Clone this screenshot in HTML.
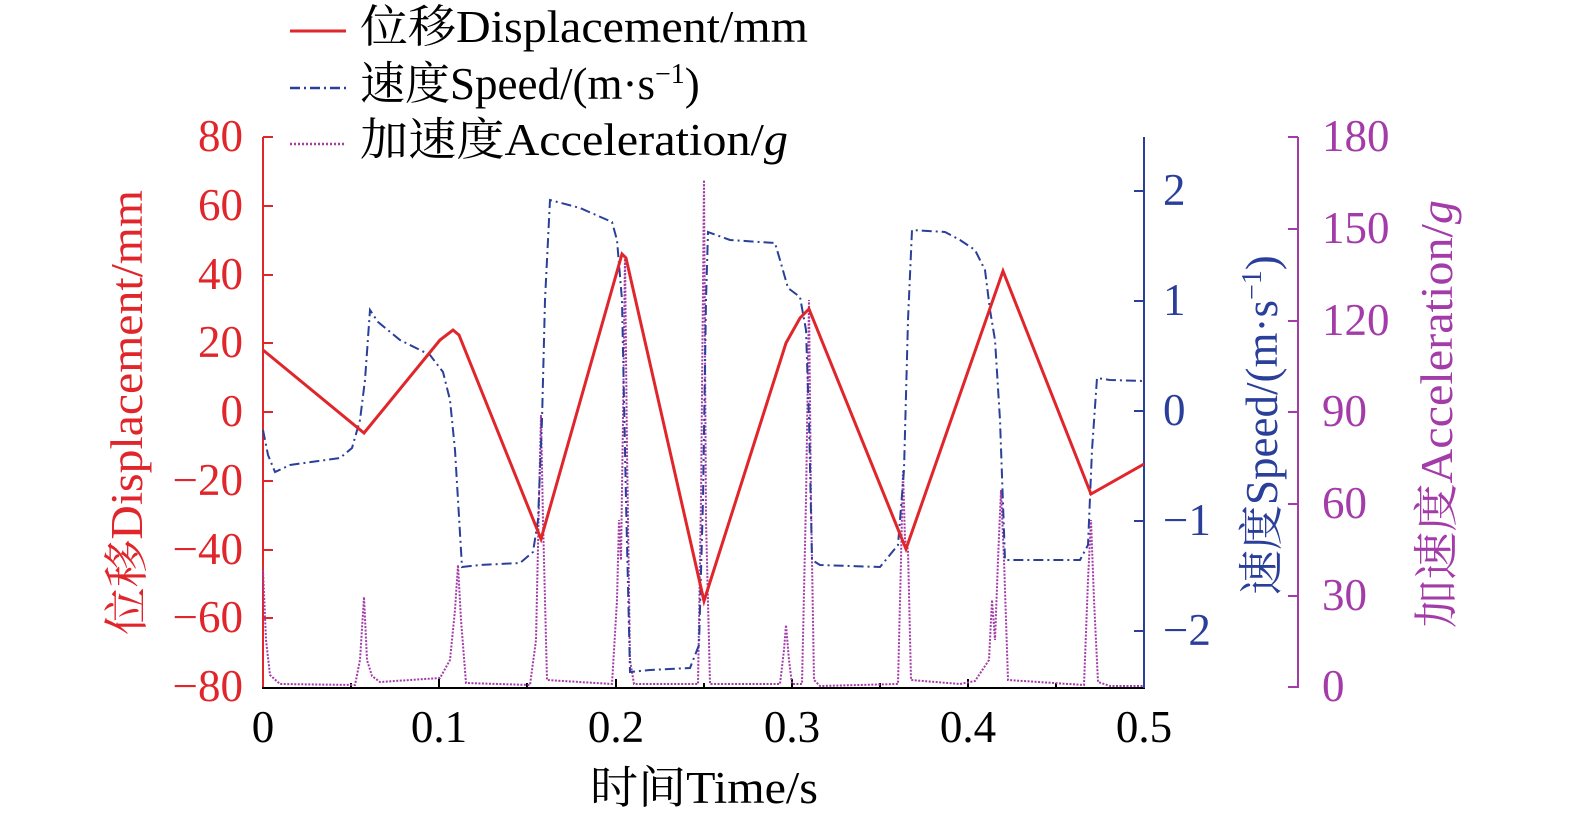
<!DOCTYPE html>
<html><head><meta charset="utf-8"><style>
html,body{margin:0;padding:0;background:#fff}
svg{display:block}
text{font-family:"Liberation Serif","Noto Serif CJK SC",serif;font-size:45px}
</style></head><body>
<svg width="1575" height="823" viewBox="0 0 1575 823" xmlns="http://www.w3.org/2000/svg">
<!-- legend -->
<line x1="290" y1="31" x2="346" y2="31" stroke="#e0262b" stroke-width="3"/>
<text x="360" y="42" fill="#000" textLength="448" lengthAdjust="spacingAndGlyphs">位移Displacement/mm</text>
<line x1="290" y1="88" x2="346" y2="88" stroke="#2a3f9a" stroke-width="2.5" stroke-dasharray="10,4,2,4"/>
<text x="360" y="99" fill="#000">速度Speed/(m·s<tspan dy="-16" font-size="28">−1</tspan><tspan dy="16">)</tspan></text>
<line x1="290" y1="144" x2="346" y2="144" stroke="#a33ca8" stroke-width="2.5" stroke-dasharray="2,2"/>
<text x="360" y="155" fill="#000" textLength="428" lengthAdjust="spacingAndGlyphs">加速度Acceleration/<tspan font-style="italic">g</tspan></text>

<!-- axes -->
<line x1="263" y1="137" x2="263" y2="688" stroke="#e0262b" stroke-width="2"/>
<line x1="262" y1="688" x2="1145" y2="688" stroke="#000" stroke-width="2"/>
<line x1="1144" y1="137" x2="1144" y2="688" stroke="#2a3f9a" stroke-width="2"/>
<line x1="1298" y1="137" x2="1298" y2="688" stroke="#a33ca8" stroke-width="2"/>
<g stroke="#e0262b" stroke-width="2">
<line x1="263" y1="137" x2="273" y2="137"/><line x1="263" y1="206" x2="273" y2="206"/><line x1="263" y1="275" x2="273" y2="275"/><line x1="263" y1="343" x2="273" y2="343"/><line x1="263" y1="412" x2="273" y2="412"/><line x1="263" y1="481" x2="273" y2="481"/><line x1="263" y1="550" x2="273" y2="550"/><line x1="263" y1="618" x2="273" y2="618"/>
</g>
<g stroke="#2a3f9a" stroke-width="2">
<line x1="1134" y1="191" x2="1144" y2="191"/><line x1="1134" y1="301" x2="1144" y2="301"/><line x1="1134" y1="411" x2="1144" y2="411"/><line x1="1134" y1="521" x2="1144" y2="521"/><line x1="1134" y1="631" x2="1144" y2="631"/>
</g>
<g stroke="#a33ca8" stroke-width="2">
<line x1="1288" y1="137" x2="1298" y2="137"/><line x1="1288" y1="229" x2="1298" y2="229"/><line x1="1288" y1="321" x2="1298" y2="321"/><line x1="1288" y1="412" x2="1298" y2="412"/><line x1="1288" y1="504" x2="1298" y2="504"/><line x1="1288" y1="596" x2="1298" y2="596"/><line x1="1288" y1="687" x2="1298" y2="687"/>
</g>
<g stroke="#000" stroke-width="2">
<line x1="439" y1="688" x2="439" y2="679"/><line x1="616" y1="688" x2="616" y2="679"/><line x1="792" y1="688" x2="792" y2="679"/><line x1="968" y1="688" x2="968" y2="679"/>
<line x1="351" y1="688" x2="351" y2="683"/><line x1="527" y1="688" x2="527" y2="683"/><line x1="704" y1="688" x2="704" y2="683"/><line x1="880" y1="688" x2="880" y2="683"/><line x1="1056" y1="688" x2="1056" y2="683"/>
</g>

<!-- tick labels -->
<g fill="#e0262b" text-anchor="end">
<text x="243" y="151">80</text><text x="243" y="220">60</text><text x="243" y="289">40</text><text x="243" y="357">20</text><text x="243" y="426">0</text><text x="243" y="495">−20</text><text x="243" y="564">−40</text><text x="243" y="632">−60</text><text x="243" y="701">−80</text>
</g>
<g fill="#2a3f9a">
<text x="1163" y="205">2</text><text x="1163" y="315">1</text><text x="1163" y="425">0</text><text x="1163" y="535">−1</text><text x="1163" y="645">−2</text>
</g>
<g fill="#a33ca8">
<text x="1322" y="151">180</text><text x="1322" y="243">150</text><text x="1322" y="335">120</text><text x="1322" y="426">90</text><text x="1322" y="518">60</text><text x="1322" y="610">30</text><text x="1322" y="701">0</text>
</g>
<g fill="#000" text-anchor="middle">
<text x="263" y="742">0</text><text x="439" y="742">0.1</text><text x="616" y="742">0.2</text><text x="792" y="742">0.3</text><text x="968" y="742">0.4</text><text x="1144" y="742">0.5</text>
</g>
<text x="590" y="803" fill="#000" textLength="228" lengthAdjust="spacingAndGlyphs">时间Time/s</text>
<text transform="translate(142,635) rotate(-90)" fill="#e0262b" textLength="445" lengthAdjust="spacingAndGlyphs">位移Displacement/mm</text>
<text transform="translate(1277,595) rotate(-90)" fill="#2a3f9a">速度Speed/(m·s<tspan dy="-16" font-size="28">−1</tspan><tspan dy="16">)</tspan></text>
<text transform="translate(1452,628) rotate(-90)" fill="#a33ca8" textLength="428" lengthAdjust="spacingAndGlyphs">加速度Acceleration/<tspan font-style="italic">g</tspan></text>

<!-- acceleration -->
<polyline fill="none" stroke="#a33ca8" stroke-width="2" stroke-dasharray="2,1.5" points="263,570 266,640 270,675 280,684 355,685 360,660 364,597 367,660 372,676 380,682 440,678 450,660 455,610 458,565 461,620 466,683 530,685 536,640 539,500 541,415 543,520 547,680 612,684 617,600 619,520 621,560 623,420 625,255 627,450 630,660 634,684 698,684 701,500 704,180 706,520 710,684 780,684 784,650 786,625 789,660 792,684 802,684 806,500 809,300 811,500 814,680 820,686 898,684 901,560 903,470 905,540 908,550 911,680 960,684 975,681 989,660 992,600 995,640 998,560 1001,490 1004,560 1008,680 1084,685 1088,580 1091,520 1094,600 1098,682 1110,686 1144,686"/>

<!-- speed -->
<polyline fill="none" stroke="#2a3f9a" stroke-width="2" stroke-dasharray="10,4,2,4" points="263,430 268,455 275,472 290,465 340,458 352,448 360,420 365,380 370,310 378,322 400,340 430,355 443,372 450,400 455,450 458,500 462,567 480,565 520,563 533,552 538,520 542,420 545,300 550,200 580,208 612,222 617,240 622,300 626,500 630,672 650,670 690,668 699,645 703,500 706,300 708,232 730,240 775,243 780,260 788,288 800,297 806,330 809,420 812,560 820,565 880,567 898,545 904,470 908,320 912,230 945,232 960,240 975,250 985,270 990,310 995,340 1000,420 1005,560 1020,560 1080,560 1088,545 1092,450 1097,378 1110,380 1144,381"/>

<!-- displacement -->
<polyline fill="none" stroke="#e0262b" stroke-width="3" points="263,350 364,433 440,340 453,330 459,335 541,539 622,254 626,258 704,601 786,343 800,318 809,309 906,549 1003,271 1091,494 1144,464"/>
</svg>
</body></html>
